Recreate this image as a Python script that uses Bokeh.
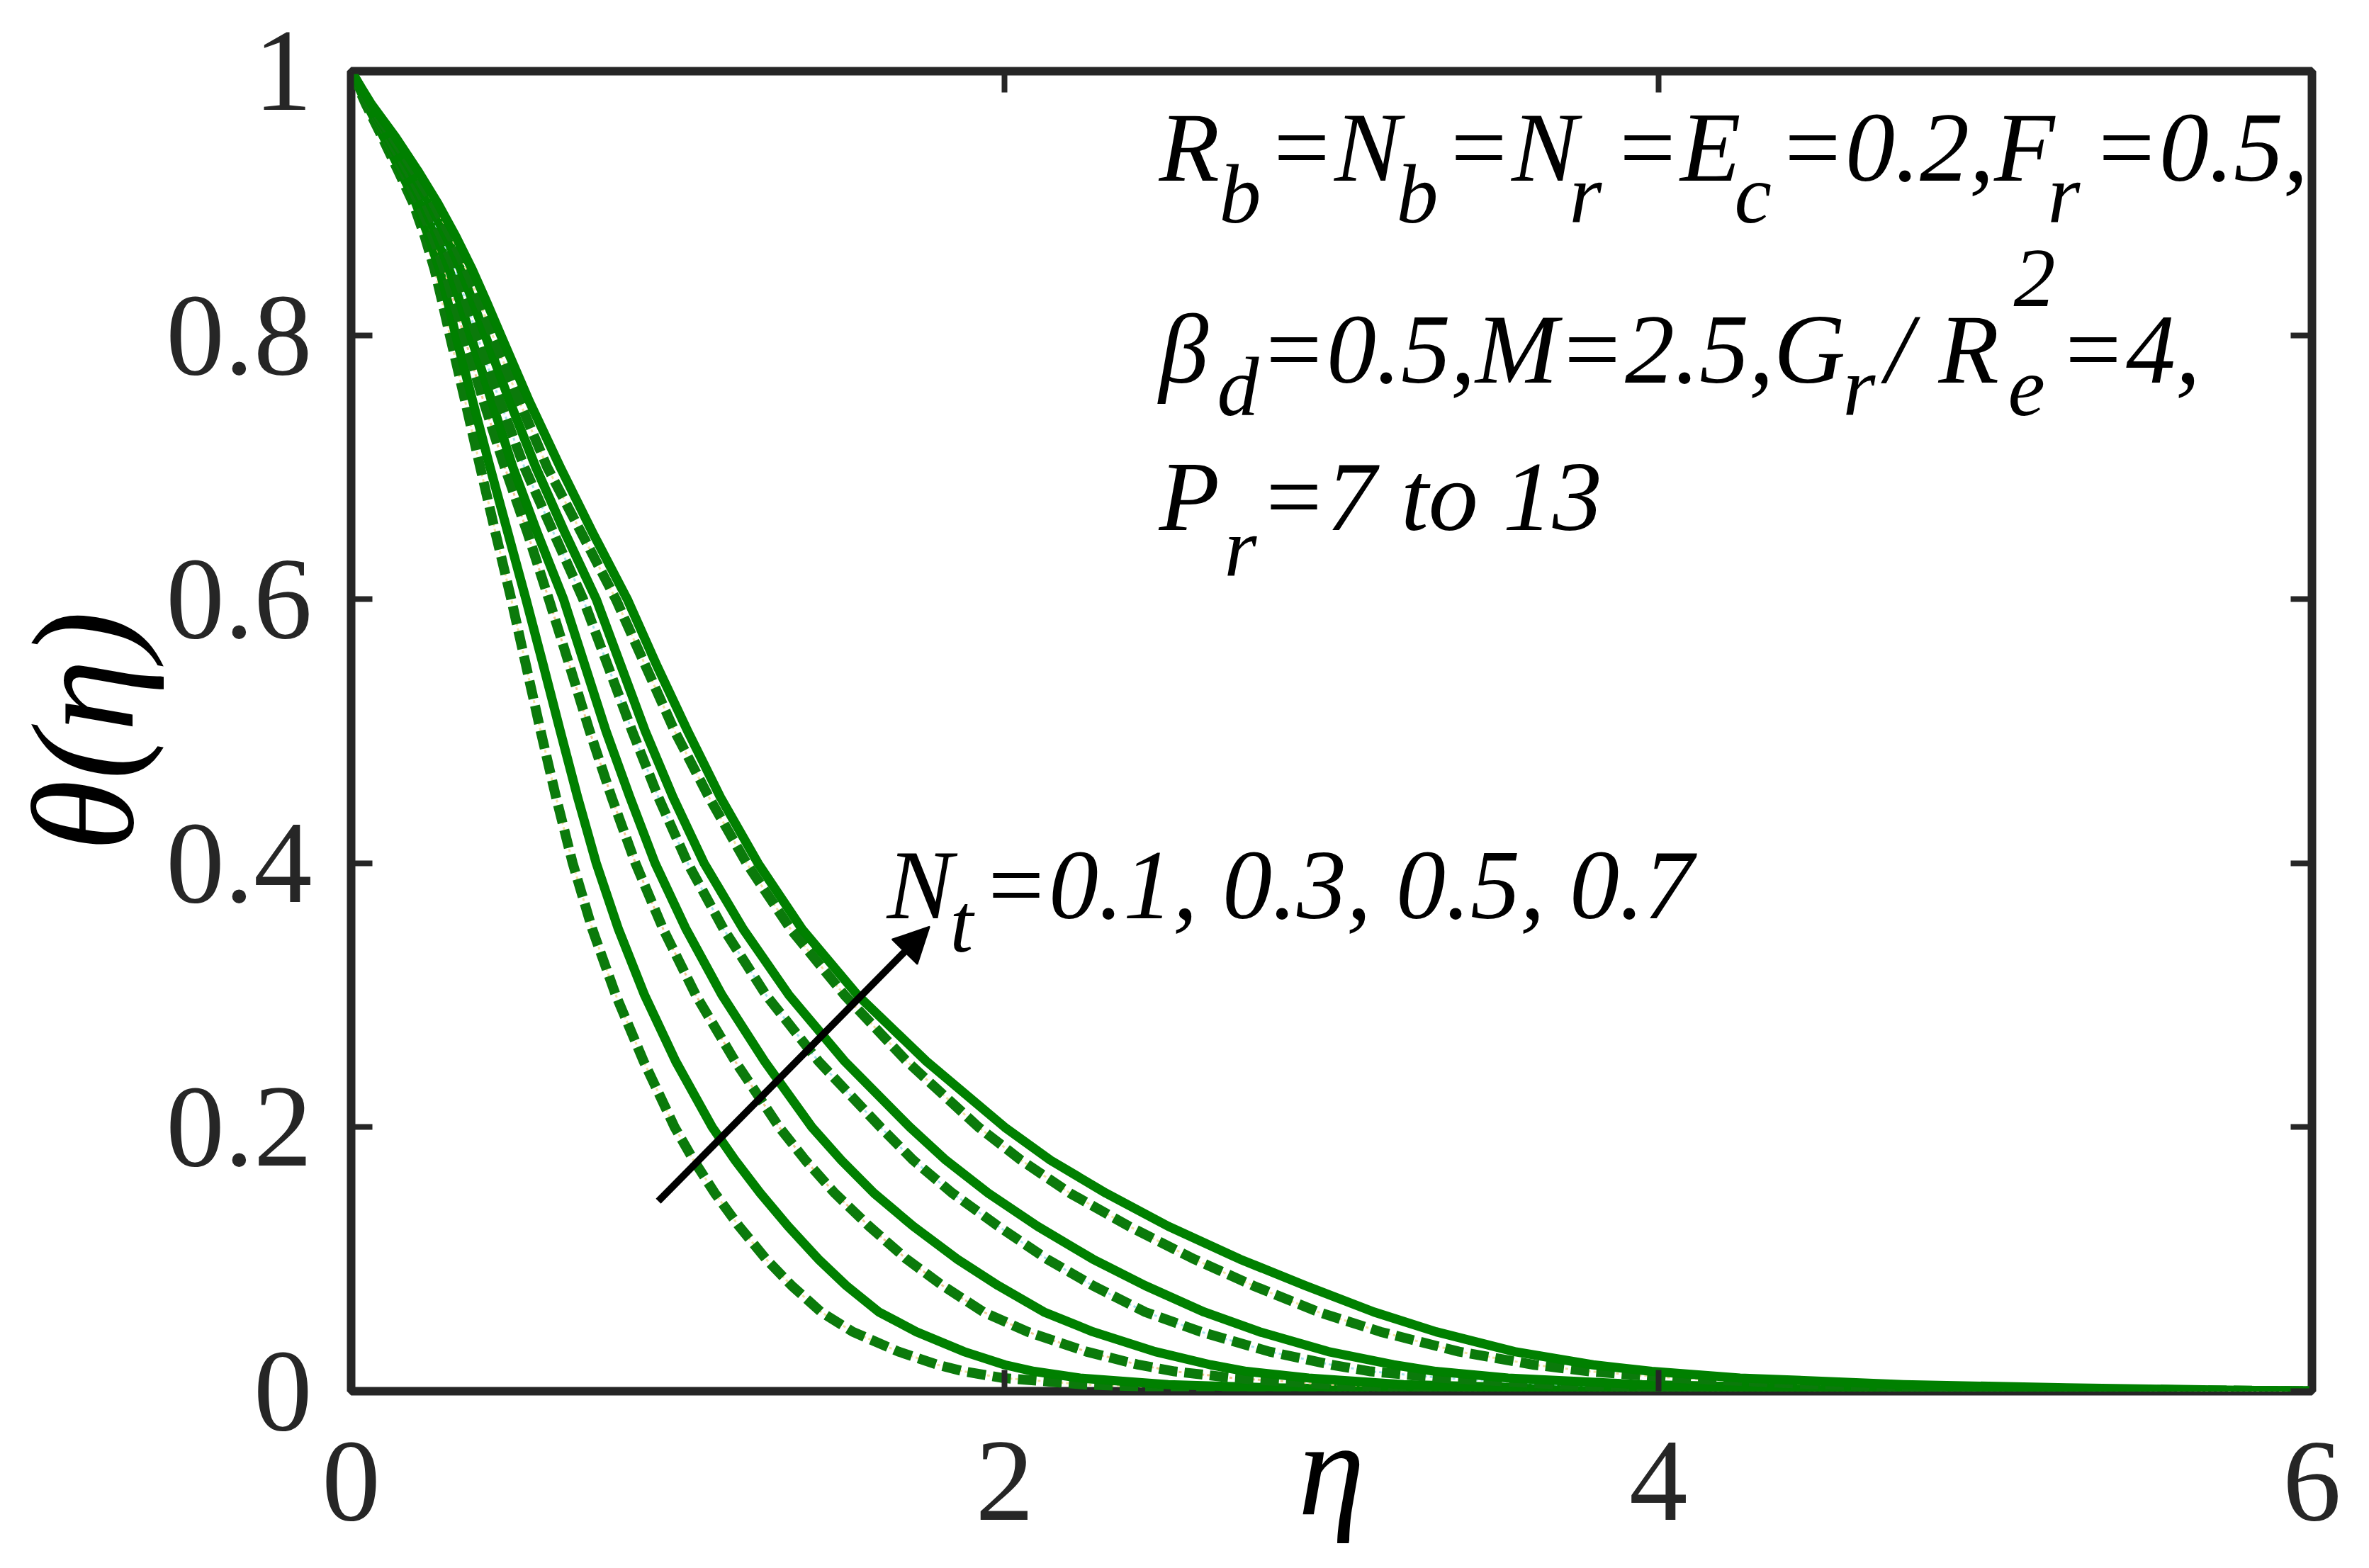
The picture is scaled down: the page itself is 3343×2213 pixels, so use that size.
from bokeh.plotting import figure
from bokeh.models import Range1d, LinearAxis, Label, Arrow, NormalHead, FixedTicker
from bokeh.embed import file_html
from bokeh.resources import INLINE

# ---------------- data ----------------
# theta(eta) levels, and the eta at which each curve crosses each level
theta_levels = [1.0, 0.975, 0.95, 0.925, 0.9, 0.875, 0.85, 0.825, 0.8, 0.75, 0.7, 0.65,
                0.6, 0.55, 0.5, 0.45, 0.4, 0.35, 0.3, 0.25, 0.2, 0.175, 0.15, 0.125,
                0.1, 0.08, 0.06, 0.045, 0.03, 0.02, 0.015, 0.01, 0.005, 0.0025, 0.001, 0.0]

nt_values = ["0.1", "0.3", "0.5", "0.7"]

# dashed curves, one per Nt
eta_dashed_nt01 = [0.0, 0.045, 0.095, 0.143, 0.190, 0.225, 0.255, 0.279, 0.302, 0.349, 0.395, 0.442,
                   0.490, 0.535, 0.580, 0.627, 0.678, 0.738, 0.810, 0.895, 0.990, 1.048, 1.113, 1.187,
                   1.270, 1.348, 1.438, 1.535, 1.675, 1.795, 1.875, 1.995, 2.250, 2.550, 3.000, 6.0]
eta_dashed_nt03 = [0.0, 0.050, 0.105, 0.158, 0.208, 0.250, 0.285, 0.315, 0.345, 0.405, 0.470, 0.540,
                   0.605, 0.668, 0.730, 0.797, 0.870, 0.955, 1.055, 1.175, 1.310, 1.390, 1.480, 1.585,
                   1.700, 1.810, 1.935, 2.070, 2.250, 2.410, 2.520, 2.700, 3.000, 3.380, 3.900, 6.0]
eta_dashed_nt05 = [0.0, 0.054, 0.115, 0.173, 0.228, 0.275, 0.318, 0.352, 0.385, 0.455, 0.530, 0.620,
                   0.710, 0.785, 0.860, 0.940, 1.030, 1.140, 1.270, 1.430, 1.620, 1.720, 1.840, 1.980,
                   2.130, 2.270, 2.430, 2.600, 2.810, 3.000, 3.120, 3.340, 3.700, 4.150, 4.700, 6.0]
eta_dashed_nt07 = [0.0, 0.058, 0.128, 0.192, 0.252, 0.305, 0.352, 0.393, 0.433, 0.515, 0.600, 0.705,
                   0.810, 0.900, 0.990, 1.095, 1.210, 1.345, 1.510, 1.700, 1.920, 2.050, 2.200, 2.380,
                   2.580, 2.760, 2.960, 3.150, 3.390, 3.620, 3.790, 4.050, 4.500, 5.000, 5.500, 6.0]

# solid curves, one per Nt
eta_solid_nt01 = [0.0, 0.048, 0.100, 0.150, 0.198, 0.237, 0.270, 0.296, 0.320, 0.372, 0.425, 0.480,
                  0.535, 0.588, 0.640, 0.693, 0.750, 0.818, 0.898, 0.993, 1.105, 1.175, 1.252, 1.337,
                  1.430, 1.515, 1.615, 1.730, 1.875, 2.000, 2.090, 2.230, 2.500, 2.820, 3.300, 6.0]
eta_solid_nt03 = [0.0, 0.052, 0.110, 0.165, 0.218, 0.262, 0.300, 0.333, 0.365, 0.430, 0.495, 0.570,
                  0.650, 0.715, 0.780, 0.853, 0.930, 1.025, 1.135, 1.265, 1.410, 1.500, 1.600, 1.720,
                  1.855, 1.980, 2.120, 2.270, 2.460, 2.630, 2.740, 2.930, 3.220, 3.600, 4.100, 6.0]
eta_solid_nt05 = [0.0, 0.056, 0.122, 0.182, 0.240, 0.290, 0.335, 0.373, 0.410, 0.485, 0.565, 0.655,
                  0.750, 0.825, 0.900, 0.985, 1.080, 1.200, 1.340, 1.510, 1.710, 1.820, 1.950, 2.100,
                  2.270, 2.430, 2.610, 2.780, 2.990, 3.190, 3.320, 3.540, 3.950, 4.450, 5.000, 6.0]
eta_solid_nt07 = [0.0, 0.062, 0.136, 0.203, 0.265, 0.320, 0.370, 0.415, 0.458, 0.545, 0.640, 0.740,
                  0.845, 0.935, 1.030, 1.130, 1.245, 1.380, 1.550, 1.760, 2.000, 2.140, 2.310, 2.500,
                  2.720, 2.920, 3.130, 3.320, 3.560, 3.800, 3.980, 4.250, 4.750, 5.250, 5.700, 6.0]

x_ticks = [0, 2, 4, 6]
x_tick_labels = ["0", "2", "4", "6"]
y_ticks = [0, 0.2, 0.4, 0.6, 0.8, 1]
y_tick_labels = ["0", "0.2", "0.4", "0.6", "0.8", "1"]

x_title = "\u03b7"
y_title = "\u03b8(\u03b7)"

# arrow, data coordinates
arrow_start = (0.94, 0.144)
arrow_end = (1.77, 0.352)

# ---------------- figure ----------------
AX = "#262626"
FONT = "Liberation Serif"
GREEN = "#008000"
DGREEN = "#0b7a0b"

p = figure(frame_width=2767, frame_height=1863,
           x_range=Range1d(0, 6), y_range=Range1d(0, 1),
           output_backend="svg", toolbar_location=None,
           min_border_left=495, min_border_right=73,
           min_border_top=100, min_border_bottom=242,
           background_fill_color="white", border_fill_color="white")
p.xgrid.visible = False
p.ygrid.visible = False
p.outline_line_color = AX
p.outline_line_width = 12
p.outline_line_alpha = 1.0

bottom_axis = p.below[0]
left_axis = p.left[0]
top_axis = LinearAxis()
right_axis = LinearAxis()
p.add_layout(top_axis, "above")
p.add_layout(right_axis, "right")

for ax, ticks, labels in [(bottom_axis, x_ticks, x_tick_labels),
                          (left_axis, y_ticks, y_tick_labels),
                          (top_axis, x_ticks, [""] * len(x_ticks)),
                          (right_axis, y_ticks, [""] * len(y_ticks))]:
    ax.ticker = FixedTicker(ticks=ticks)
    ax.major_label_overrides = {t: l for t, l in zip(ticks, labels)}
    ax.axis_line_color = None
    ax.major_tick_in = 30
    ax.major_tick_out = 0
    ax.major_tick_line_width = 8
    ax.major_tick_line_color = AX
    ax.minor_tick_line_color = None
    ax.major_label_text_font = FONT
    ax.major_label_text_font_size = "165px"
    ax.major_label_text_color = AX

for ax in (top_axis, right_axis):
    ax.major_label_text_font_size = "1px"
    ax.major_label_standoff = 0

bottom_axis.major_label_standoff = 72
left_axis.major_label_standoff = 55

bottom_axis.axis_label = x_title
bottom_axis.axis_label_text_font = FONT
bottom_axis.axis_label_text_font_style = "italic"
bottom_axis.axis_label_text_font_size = "190px"
bottom_axis.axis_label_text_color = "black"
bottom_axis.axis_label_standoff = -180

left_axis.axis_label = y_title
left_axis.axis_label_text_font = FONT
left_axis.axis_label_text_font_style = "italic"
left_axis.axis_label_text_font_size = "205px"
left_axis.axis_label_text_color = "black"
left_axis.axis_label_standoff = 0

dot_colors = ["#f2e2a0", "#f0c890", "#a6e3ee", "#f2e2a0"]
dashed = [eta_dashed_nt01, eta_dashed_nt03, eta_dashed_nt05, eta_dashed_nt07]
solid = [eta_solid_nt01, eta_solid_nt03, eta_solid_nt05, eta_solid_nt07]

for i in range(4):
    p.line(dashed[i], theta_levels, line_color=dot_colors[i], line_width=3,
           line_dash="4 4", line_join="round")
    p.line(dashed[i], theta_levels, line_color=DGREEN, line_width=14,
           line_dash="26 10", line_join="round")
    p.line(solid[i], theta_levels, line_color=GREEN, line_width=13,
           line_join="round", line_cap="round")

p.add_layout(Arrow(end=NormalHead(size=50, fill_color="black", line_color="black", line_width=2),
                   x_start=arrow_start[0], y_start=arrow_start[1],
                   x_end=arrow_end[0], y_end=arrow_end[1],
                   line_color="black", line_width=10))

DY = 45  # baseline correction


def put(text, sx, sy, size):
    p.add_layout(Label(x=sx, y=sy + DY, x_units="screen", y_units="screen", text=text,
                       text_font=FONT, text_font_style="italic", text_font_size=size,
                       text_color="black", text_align="left", text_baseline="alphabetic"))


MAIN = "140px"
SUB = "118px"

# line 1: R_b=N_b=N_r=E_c=0.2,F_r=0.5,
y1, y1s = 1711, 1644
for t, x, sub in [("R", 1140, False), ("b", 1225, True), ("=N", 1293, False), ("b", 1475, True),
                  ("=N", 1543, False), ("r", 1719, True), ("=E", 1781, False), ("c", 1952, True),
                  ("=0.2,F", 2014, False), ("r", 2394, True), ("=0.5,", 2457, False)]:
    put(t, x, y1s if sub else y1, SUB if sub else MAIN)

# line 2: beta_d=0.5,M=2.5,G_r / R_e^2=4,
y2, y2s, y2p = 1426, 1372, 1526
for t, x, kind in [("\u03b2", 1140, "m"), ("d", 1222, "s"), ("=0.5,M=2.5,G", 1282, "m"),
                   ("r", 2105, "s"), ("/", 2165, "m"), ("R", 2240, "m"), ("e", 2338, "s"),
                   ("2", 2346, "p"), ("=4,", 2410, "m")]:
    yy = {"m": y2, "s": y2s, "p": y2p}[kind]
    put(t, x, yy, MAIN if kind == "m" else SUB)

# line 3: P_r=7 to 13
put("P", 1140, 1218, MAIN)
put("r", 1232, 1145, SUB)
put("=7 to 13", 1282, 1218, MAIN)

# N_t label
put("N", 756, 670, MAIN)
put("t", 845, 615, SUB)
put("=" + ", ".join(nt_values), 890, 670, MAIN)

open("out.html", "w").write(file_html(p, INLINE))
